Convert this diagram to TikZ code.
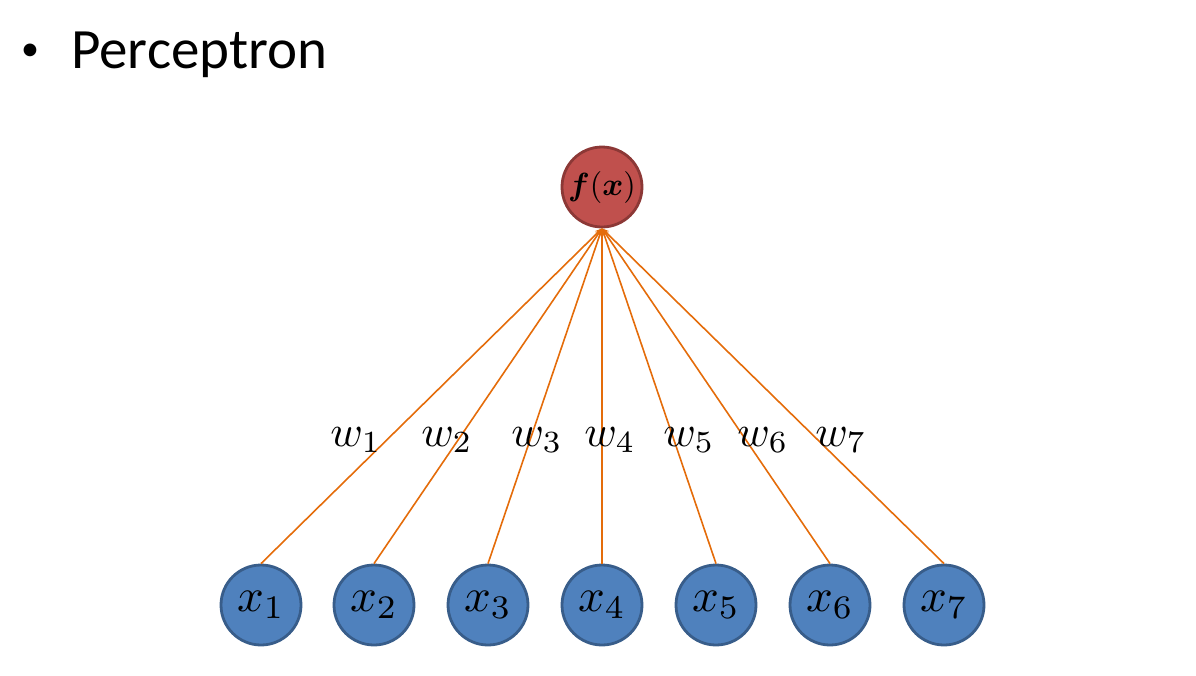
\documentclass[tikz,border=0pt]{standalone}
\usepackage{graphicx}
\usepackage{bm}
\usepackage{fontspec}
\newfontfamily\carlito{Carlito}
\usetikzlibrary{arrows.meta}
\definecolor{redfill}{HTML}{C0504D}
\definecolor{redline}{HTML}{8C3836}
\definecolor{bluefill}{HTML}{4F81BD}
\definecolor{blueline}{HTML}{385D8A}
\definecolor{edgecol}{HTML}{E46C0A}
\newcommand{\bigx}[1]{\scalebox{4.7}{$#1$}}
\newcommand{\bigw}[1]{\scalebox{4.4}{$#1$}}
\newcommand{\bigf}[1]{\scalebox{3.2}{$#1$}}
\tikzset{
  inputnode/.style={circle, draw=blueline, fill=bluefill, line width=2.8pt, minimum size=80pt, inner sep=0pt},
  outnode/.style={circle, draw=redline, fill=redfill, line width=2.8pt, minimum size=80pt, inner sep=0pt},
  wlabel/.style={inner sep=0pt},
  conn/.style={draw=edgecol, line width=1.6pt, -{Stealth[length=7pt,width=6pt]}},
}
\begin{document}
\begin{tikzpicture}[x=1pt,y=-1pt]
\useasboundingbox (0,0) rectangle (1196,675);
\node[font=\carlito\fontsize{36}{40}\selectfont, inner sep=0pt] (bullet) at (30,52) {•};
\node[font=\carlito\fontsize{57}{60}\selectfont, inner sep=0pt, anchor=base west] (title) at (71,68) {Perceptron};
\node[outnode] (f) at (602,187) {\bigf{\bm{f}(\bm{x})}};
\foreach \i/\xx in {1/261,2/374,3/488,4/602,5/716,6/830,7/944}{
  \node[inputnode] (x\i) at (\xx,605) {\bigx{x_\i}};
}
\foreach \i in {1,...,7}{
  \draw[conn] (x\i.north) -- (f.south);
}
\foreach \i/\xx in {1/356,2/447,3/537,4/610,5/689,6/763,7/841}{
  \node[wlabel] (w\i) at (\xx,440) {\bigw{w_\i}};
}
\end{tikzpicture}
\end{document}
